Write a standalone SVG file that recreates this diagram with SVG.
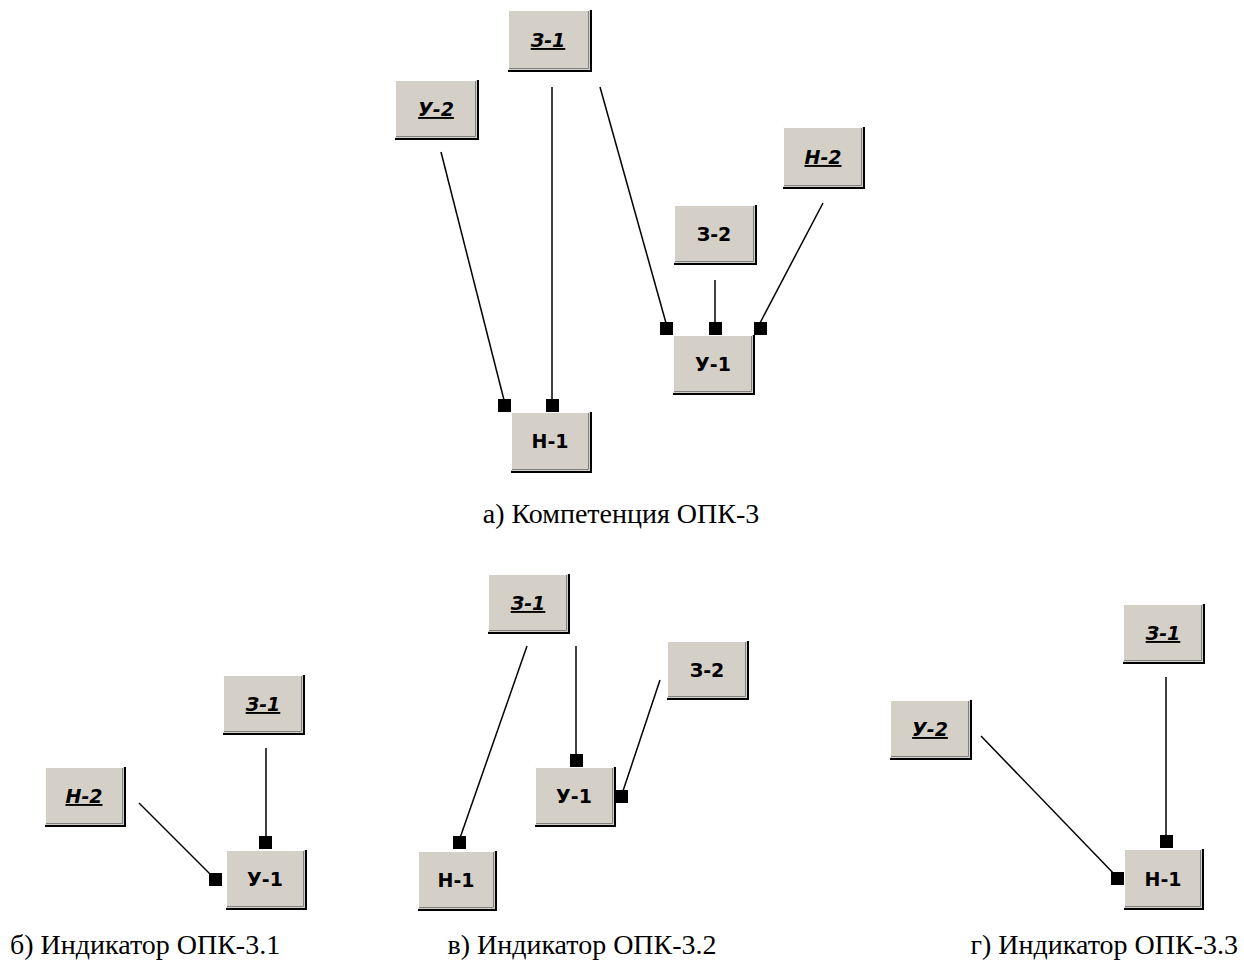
<svg xmlns="http://www.w3.org/2000/svg" width="1244" height="960" viewBox="0 0 1244 960">
<defs>
<style>
.bg{fill:#d4d0c8}
.hl{fill:none;stroke:#ffffff;stroke-width:1}
.sh{fill:none;stroke:#000000;stroke-width:2}
.sh2{fill:none;stroke:#808080;stroke-width:1}
.lbl{font-family:"DejaVu Sans",Verdana,sans-serif;font-weight:bold;font-size:19px;fill:#000;text-anchor:middle}
.it{font-style:italic;text-decoration:underline}
.ln{stroke:#000;stroke-width:1.5;fill:none}
.sq{fill:#000}
.cap{font-family:"Liberation Serif","Times New Roman",serif;font-size:28px;fill:#000}
</style>
</defs>
<rect width="1244" height="960" fill="#fff"/>
<g id="connectors">
<line class="ln" x1="552" y1="87" x2="552" y2="401"/>
<line class="ln" x1="441" y1="152" x2="504" y2="400"/>
<line class="ln" x1="600" y1="87" x2="666" y2="323"/>
<line class="ln" x1="823" y1="203" x2="760" y2="323"/>
<line class="ln" x1="715" y1="280" x2="715" y2="323"/>
<rect class="sq" x="498" y="399" width="13" height="13"/>
<rect class="sq" x="546" y="399" width="13" height="13"/>
<rect class="sq" x="660" y="322" width="13" height="13"/>
<rect class="sq" x="709" y="322" width="13" height="13"/>
<rect class="sq" x="754" y="322" width="13" height="13"/>
<line class="ln" x1="139" y1="803" x2="214" y2="878"/>
<line class="ln" x1="266" y1="748" x2="266" y2="838"/>
<rect class="sq" x="209" y="873" width="13" height="13"/>
<rect class="sq" x="259" y="836" width="13" height="13"/>
<line class="ln" x1="527" y1="646" x2="460" y2="838"/>
<line class="ln" x1="576" y1="646" x2="576" y2="756"/>
<line class="ln" x1="660" y1="680" x2="623" y2="791"/>
<rect class="sq" x="453" y="836" width="13" height="13"/>
<rect class="sq" x="570" y="754" width="13" height="13"/>
<rect class="sq" x="615" y="790" width="13" height="13"/>
<line class="ln" x1="1166" y1="677" x2="1166" y2="837"/>
<line class="ln" x1="981" y1="736" x2="1117" y2="877"/>
<rect class="sq" x="1160" y="835" width="13" height="13"/>
<rect class="sq" x="1111" y="872" width="13" height="13"/>
</g>
<g id="a-Z1"><rect class="bg" x="508" y="10" width="82" height="60"/><polyline class="hl" points="508.5,69 508.5,10.5 589,10.5"/><polyline class="sh2" points="509,68.5 588.5,68.5 588.5,11"/><polyline class="sh" points="508,71 591,71 591,10"/><text class="lbl it" x="548" y="47">З-1</text></g>
<g id="a-U2"><rect class="bg" x="395" y="80" width="82" height="58"/><polyline class="hl" points="395.5,137 395.5,80.5 476,80.5"/><polyline class="sh2" points="396,136.5 475.5,136.5 475.5,81"/><polyline class="sh" points="395,139 478,139 478,80"/><text class="lbl it" x="436" y="116">У-2</text></g>
<g id="a-N2"><rect class="bg" x="783" y="127" width="80" height="60"/><polyline class="hl" points="783.5,186 783.5,127.5 862,127.5"/><polyline class="sh2" points="784,185.5 861.5,185.5 861.5,128"/><polyline class="sh" points="783,188 864,188 864,127"/><text class="lbl it" x="823" y="164">Н-2</text></g>
<g id="a-Z2"><rect class="bg" x="674" y="205" width="81" height="58"/><polyline class="hl" points="674.5,262 674.5,205.5 754,205.5"/><polyline class="sh2" points="675,261.5 753.5,261.5 753.5,206"/><polyline class="sh" points="674,264 756,264 756,205"/><text class="lbl" x="714" y="241">З-2</text></g>
<g id="a-U1"><rect class="bg" x="673" y="335" width="80" height="58"/><polyline class="hl" points="673.5,392 673.5,335.5 752,335.5"/><polyline class="sh2" points="674,391.5 751.5,391.5 751.5,336"/><polyline class="sh" points="673,394 754,394 754,335"/><text class="lbl" x="713" y="371">У-1</text></g>
<g id="a-N1"><rect class="bg" x="511" y="412" width="79" height="59"/><polyline class="hl" points="511.5,470 511.5,412.5 589,412.5"/><polyline class="sh2" points="512,469.5 588.5,469.5 588.5,413"/><polyline class="sh" points="511,472 591,472 591,412"/><text class="lbl" x="550" y="448">Н-1</text></g>
<g id="b-N2"><rect class="bg" x="45" y="767" width="79" height="58"/><polyline class="hl" points="45.5,824 45.5,767.5 123,767.5"/><polyline class="sh2" points="46,823.5 122.5,823.5 122.5,768"/><polyline class="sh" points="45,826 125,826 125,767"/><text class="lbl it" x="84" y="803">Н-2</text></g>
<g id="b-Z1"><rect class="bg" x="223" y="675" width="80" height="58"/><polyline class="hl" points="223.5,732 223.5,675.5 302,675.5"/><polyline class="sh2" points="224,731.5 301.5,731.5 301.5,676"/><polyline class="sh" points="223,734 304,734 304,675"/><text class="lbl it" x="263" y="711">З-1</text></g>
<g id="b-U1"><rect class="bg" x="226" y="850" width="79" height="58"/><polyline class="hl" points="226.5,907 226.5,850.5 304,850.5"/><polyline class="sh2" points="227,906.5 303.5,906.5 303.5,851"/><polyline class="sh" points="226,909 306,909 306,850"/><text class="lbl" x="265" y="886">У-1</text></g>
<g id="v-Z1"><rect class="bg" x="488" y="574" width="80" height="58"/><polyline class="hl" points="488.5,631 488.5,574.5 567,574.5"/><polyline class="sh2" points="489,630.5 566.5,630.5 566.5,575"/><polyline class="sh" points="488,633 569,633 569,574"/><text class="lbl it" x="528" y="610">З-1</text></g>
<g id="v-Z2"><rect class="bg" x="667" y="641" width="80" height="57"/><polyline class="hl" points="667.5,697 667.5,641.5 746,641.5"/><polyline class="sh2" points="668,696.5 745.5,696.5 745.5,642"/><polyline class="sh" points="667,699 748,699 748,641"/><text class="lbl" x="707" y="677">З-2</text></g>
<g id="v-U1"><rect class="bg" x="535" y="767" width="79" height="58"/><polyline class="hl" points="535.5,824 535.5,767.5 613,767.5"/><polyline class="sh2" points="536,823.5 612.5,823.5 612.5,768"/><polyline class="sh" points="535,826 615,826 615,767"/><text class="lbl" x="574" y="803">У-1</text></g>
<g id="v-N1"><rect class="bg" x="418" y="851" width="77" height="58"/><polyline class="hl" points="418.5,908 418.5,851.5 494,851.5"/><polyline class="sh2" points="419,907.5 493.5,907.5 493.5,852"/><polyline class="sh" points="418,910 496,910 496,851"/><text class="lbl" x="456" y="887">Н-1</text></g>
<g id="g-Z1"><rect class="bg" x="1123" y="604" width="80" height="58"/><polyline class="hl" points="1123.5,661 1123.5,604.5 1202,604.5"/><polyline class="sh2" points="1124,660.5 1201.5,660.5 1201.5,605"/><polyline class="sh" points="1123,663 1204,663 1204,604"/><text class="lbl it" x="1163" y="640">З-1</text></g>
<g id="g-U2"><rect class="bg" x="890" y="700" width="80" height="58"/><polyline class="hl" points="890.5,757 890.5,700.5 969,700.5"/><polyline class="sh2" points="891,756.5 968.5,756.5 968.5,701"/><polyline class="sh" points="890,759 971,759 971,700"/><text class="lbl it" x="930" y="736">У-2</text></g>
<g id="g-N1"><rect class="bg" x="1124" y="849" width="78" height="59"/><polyline class="hl" points="1124.5,907 1124.5,849.5 1201,849.5"/><polyline class="sh2" points="1125,906.5 1200.5,906.5 1200.5,850"/><polyline class="sh" points="1124,909 1203,909 1203,849"/><text class="lbl" x="1163" y="886">Н-1</text></g>
<g id="captions">
<text class="cap" x="621" y="523" text-anchor="middle">а) Компетенция ОПК-3</text>
<text class="cap" x="10" y="954">б) Индикатор ОПК-3.1</text>
<text class="cap" x="582" y="954" text-anchor="middle">в) Индикатор ОПК-3.2</text>
<text class="cap" x="1238" y="954" text-anchor="end">г) Индикатор ОПК-3.3</text>
</g>
</svg>
